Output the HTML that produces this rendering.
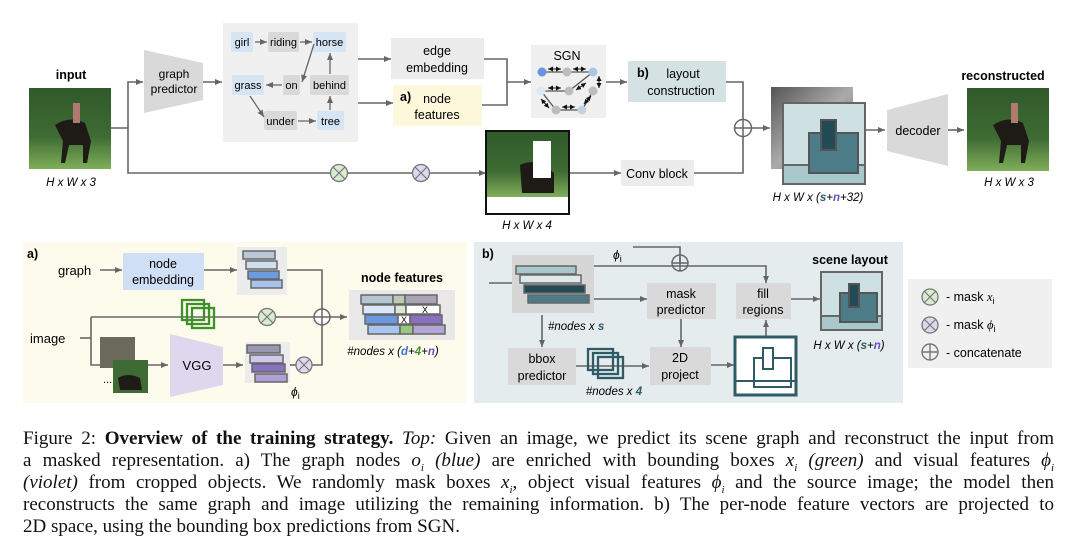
<!DOCTYPE html>
<html><head><meta charset="utf-8">
<style>
html,body{margin:0;padding:0;background:#fff;}
#w{position:relative;width:1080px;height:560px;overflow:hidden;background:#fff;}
svg{position:absolute;left:0;top:0;}
svg text{font-family:"Liberation Sans",sans-serif;}
.cap{position:absolute;left:23px;width:1031px;font-family:"Liberation Serif",serif;font-size:19px;line-height:22px;text-align:justify;text-align-last:justify;white-space:nowrap;color:#111;}
.cap.l{text-align-last:left;}
</style></head><body><div id="w">
<svg width="1080" height="420" viewBox="0 0 1080 420">
<defs>
<marker id="a" markerWidth="8" markerHeight="8" refX="7" refY="4" orient="auto" markerUnits="userSpaceOnUse"><path d="M0,1 L7,4 L0,7 z" fill="#666"/></marker>
<marker id="ak" markerWidth="6" markerHeight="6" refX="5" refY="3" orient="auto-start-reverse" markerUnits="userSpaceOnUse"><path d="M0,0.5 L5,3 L0,5.5 z" fill="#111"/></marker>
<linearGradient id="forest" x1="0" y1="0" x2="0" y2="1"><stop offset="0" stop-color="#2f5a2a"/><stop offset="0.6" stop-color="#3e6b33"/><stop offset="1" stop-color="#7fae5a"/></linearGradient>
<linearGradient id="gray" x1="0" y1="0" x2="1" y2="1"><stop offset="0" stop-color="#555"/><stop offset="0.5" stop-color="#aaa"/><stop offset="1" stop-color="#666"/></linearGradient>
</defs>
<g stroke="#666" stroke-width="1.6" fill="none">
<path d="M111,128 H128 V173 H486" marker-end="url(#a)"/>
<path d="M128,128 V82 H143" marker-end="url(#a)"/>
<path d="M203,82 H222" marker-end="url(#a)"/>
<path d="M358,59 H391" marker-end="url(#a)"/>
<path d="M358,103 H393" marker-end="url(#a)"/>
<path d="M484,59 H507 V105 H482"/>
<path d="M507,82 H531" marker-end="url(#a)"/>
<path d="M606,82 H627" marker-end="url(#a)"/>
<path d="M726,82 H743 V173 H694"/>
<path d="M569,173 H621" marker-end="url(#a)"/>
<path d="M751,128 H770" marker-end="url(#a)"/>
<path d="M865,130 H885" marker-end="url(#a)"/>
<path d="M948,130 H964" marker-end="url(#a)"/>
</g>
<rect x="29" y="88" width="82" height="81" fill="url(#forest)"/>
<path d="M55,125 q15,-10 30,-2 l6,18 l-4,22 l-4,0 l0,-18 l-14,0 l-4,18 l-4,0 l2,-22 z" fill="#1e1a16"/>
<rect x="73" y="103" width="7" height="20" fill="#b07a70"/>
<text x="71" y="79" font-size="12.5" font-weight="bold" text-anchor="middle">input</text>
<text x="71" y="186" font-size="11.5" font-style="italic" text-anchor="middle">H x W x 3</text>
<polygon points="144,50 203,63 203,100 144,113" fill="#d9d9d9"/>
<text x="174" y="78" font-size="12" text-anchor="middle">graph</text>
<text x="174" y="93" font-size="12" text-anchor="middle">predictor</text>
<rect x="223" y="23" width="135" height="119" fill="#f0f0f0"/>
<g font-size="11" text-anchor="middle">
<rect x="231" y="32" width="22" height="20" rx="2" fill="#d5e5f4"/><text x="242" y="46">girl</text>
<rect x="268" y="32" width="31" height="20" rx="2" fill="#d9d9d9"/><text x="283.5" y="46">riding</text>
<rect x="313" y="32" width="33" height="20" rx="2" fill="#d5e5f4"/><text x="329.5" y="46">horse</text>
<rect x="232" y="75" width="32" height="20" rx="2" fill="#d5e5f4"/><text x="248" y="89">grass</text>
<rect x="283" y="75" width="17" height="20" rx="2" fill="#d9d9d9"/><text x="291.5" y="89">on</text>
<rect x="310" y="75" width="39" height="20" rx="2" fill="#d9d9d9"/><text x="329.5" y="89">behind</text>
<rect x="264" y="111" width="33" height="19" rx="2" fill="#d9d9d9"/><text x="280.5" y="125">under</text>
<rect x="317" y="111" width="27" height="19" rx="2" fill="#d5e5f4"/><text x="330.5" y="125">tree</text>
</g>
<g stroke="#666" stroke-width="1.3" fill="none">
<path d="M255,42 H267" marker-end="url(#a)"/>
<path d="M300,42 H312" marker-end="url(#a)"/>
<path d="M314,44 L302,82" marker-end="url(#a)"/>
<path d="M282,85 H266" marker-end="url(#a)"/>
<path d="M250,96 L264,117" marker-end="url(#a)"/>
<path d="M298,121 H316" marker-end="url(#a)"/>
<path d="M330,110 V96" marker-end="url(#a)"/>
<path d="M330,74 V53" marker-end="url(#a)"/>
</g>
<rect x="391" y="38" width="93" height="41" fill="#ececec"/>
<text x="437" y="55" font-size="12.5" text-anchor="middle">edge</text>
<text x="437" y="72" font-size="12.5" text-anchor="middle">embedding</text>
<rect x="393" y="85" width="89" height="41" fill="#fdf8dc"/>
<text x="400" y="101" font-size="12.5" font-weight="bold">a)</text>
<text x="437" y="103" font-size="12.5" text-anchor="middle">node</text>
<text x="437" y="119" font-size="12.5" text-anchor="middle">features</text>
<rect x="531" y="45" width="75" height="73" fill="#f0f0f0"/>
<text x="567" y="60" font-size="12.5" text-anchor="middle">SGN</text>
<g stroke="#555" stroke-width="1.3">
<line x1="542" y1="72" x2="593" y2="72"/><line x1="541" y1="91" x2="569" y2="91"/><line x1="569" y1="91" x2="593" y2="72"/>
<line x1="541" y1="91" x2="556" y2="110"/><line x1="556" y1="110" x2="582" y2="110"/><line x1="582" y1="110" x2="593" y2="91"/>
</g>
<g stroke="#111" stroke-width="1" marker-start="url(#ak)" marker-end="url(#ak)">
<line x1="548" y1="69" x2="561" y2="69"/><line x1="573" y1="69" x2="586" y2="69"/>
<line x1="548" y1="88" x2="561" y2="88"/><line x1="599" y1="76" x2="599" y2="88"/>
<line x1="576" y1="90" x2="586" y2="83"/><line x1="541" y1="99" x2="549" y2="108"/>
<line x1="562" y1="107" x2="575" y2="107"/><line x1="584" y1="104" x2="591" y2="96"/>
</g>
<circle cx="542" cy="72" r="4.5" fill="#6a94de"/><circle cx="567" cy="72" r="4.5" fill="#bdbdbd"/><circle cx="593" cy="72" r="4.5" fill="#a9c6e8"/>
<circle cx="541" cy="91" r="4.5" fill="#dbe8f6"/><circle cx="569" cy="91" r="4.5" fill="#bdbdbd"/><circle cx="593" cy="91" r="4.5" fill="#bdbdbd"/>
<circle cx="556" cy="110" r="4.5" fill="#bdbdbd"/><circle cx="582" cy="110" r="4.5" fill="#c3d3e4"/>
<rect x="628" y="61" width="98" height="41" fill="#d4e2e4"/>
<text x="637" y="77" font-size="12.5" font-weight="bold">b)</text>
<text x="683" y="78" font-size="12.5" text-anchor="middle">layout</text>
<text x="681" y="95" font-size="12.5" text-anchor="middle">construction</text>
<circle cx="339" cy="173" r="8.5" fill="#d9ecd0" stroke="#777" stroke-width="1.3"/>
<path d="M333,167 L345,179 M345,167 L333,179" stroke="#777" stroke-width="1.2"/>
<circle cx="421" cy="173" r="8.5" fill="#ddd8ee" stroke="#777" stroke-width="1.3"/>
<path d="M415,167 L427,179 M427,167 L415,179" stroke="#777" stroke-width="1.2"/>
<rect x="486" y="131" width="83" height="83" fill="#fff" stroke="#111" stroke-width="2"/>
<rect x="487" y="132" width="81" height="65" fill="url(#forest)"/>
<path d="M520,165 q12,-6 24,0 l10,8 l0,20 l-32,0 z" fill="#1e1a16"/>
<rect x="533" y="141" width="18" height="37" fill="#fff"/>
<text x="527" y="229" font-size="11.5" font-style="italic" text-anchor="middle">H x W x 4</text>
<rect x="621" y="160" width="73" height="26" fill="#ececec"/>
<text x="657" y="178" font-size="12.5" text-anchor="middle">Conv block</text>
<circle cx="743" cy="128" r="8.5" fill="#fff" stroke="#666" stroke-width="1.5"/>
<path d="M734.5,128 H751.5 M743,119.5 V136.5" stroke="#666" stroke-width="1.5"/>
<rect x="771" y="87" width="82" height="82" fill="url(#gray)"/>
<rect x="783" y="103" width="82" height="81" fill="#cfe0e2" stroke="#666" stroke-width="2"/>
<rect x="784" y="165" width="80" height="18" fill="#a9c8cc"/>
<line x1="783" y1="165" x2="865" y2="165" stroke="#666" stroke-width="2"/>
<rect x="809" y="133" width="49" height="40" fill="#4b7c88" stroke="#555" stroke-width="2"/>
<rect x="821" y="120" width="15" height="30" fill="#234b55" stroke="#555" stroke-width="2"/>
<text x="818" y="201" font-size="11.5" font-style="italic" text-anchor="middle">H x W x (<tspan fill="#2e5b66" font-weight="bold">s</tspan>+<tspan fill="#6a4fc0" font-weight="bold">n</tspan>+32)</text>
<polygon points="887,110 948,94 948,166 887,151" fill="#d9d9d9"/>
<text x="918" y="135" font-size="12.5" text-anchor="middle">decoder</text>
<rect x="967" y="88" width="82" height="83" fill="url(#forest)"/>
<path d="M993,125 q15,-10 30,-2 l6,18 l-4,22 l-4,0 l0,-18 l-14,0 l-4,18 l-4,0 l2,-22 z" fill="#1e1a16"/>
<rect x="1011" y="103" width="7" height="20" fill="#b07a70"/>
<text x="1003" y="80" font-size="12.5" font-weight="bold" text-anchor="middle">reconstructed</text>
<text x="1009" y="186" font-size="11.5" font-style="italic" text-anchor="middle">H x W x 3</text>

<rect x="23" y="242" width="444" height="161" fill="#fdfbec"/>
<text x="27" y="258" font-size="12.5" font-weight="bold">a)</text>
<text x="58" y="275" font-size="13">graph</text>
<rect x="123" y="253" width="81" height="37" fill="#cfdff5"/>
<text x="163" y="268" font-size="12.5" text-anchor="middle">node</text>
<text x="163" y="284" font-size="12.5" text-anchor="middle">embedding</text>
<rect x="237" y="247" width="50" height="48" fill="#ececec"/>
<g stroke="#666" stroke-width="1.5">
<rect x="243" y="251" width="32" height="8" fill="#b8c8d4"/>
<rect x="246" y="261" width="31" height="8" fill="#cfe0f0"/>
<rect x="248" y="271" width="31" height="8" fill="#6d9be0"/>
<rect x="251" y="280" width="31" height="8" fill="#a8c4ee"/>
</g>
<text x="30" y="343" font-size="13">image</text>
<g stroke="#666" stroke-width="1.6" fill="none">
<path d="M100,270 H122" marker-end="url(#a)"/>
<path d="M204,270 H237" marker-end="url(#a)"/>
<path d="M287,270 H322 V365 H312"/>
<path d="M80,338 H91"/>
<path d="M91,317 V365 H100"/>
<path d="M91,317 H347" marker-end="url(#a)"/>
<path d="M148,365 H168" marker-end="url(#a)"/>
<path d="M223,365 H243" marker-end="url(#a)"/>
<path d="M290,365 H296"/>
</g>
<g fill="none" stroke="#3f8f2a" stroke-width="2.3">
<rect x="182" y="300" width="22" height="20"/><rect x="187" y="304" width="22" height="20"/><rect x="192" y="308" width="22" height="20"/>
</g>
<circle cx="267" cy="317" r="8.5" fill="#d9ecd0" stroke="#777" stroke-width="1.3"/>
<path d="M261,311 L273,323 M273,311 L261,323" stroke="#777" stroke-width="1.2"/>
<circle cx="322" cy="317" r="8" fill="#fff" stroke="#666" stroke-width="1.5"/>
<path d="M314,317 H330 M322,309 V325" stroke="#666" stroke-width="1.5"/>
<rect x="100" y="337" width="35" height="31" fill="#6b6a5a"/>
<rect x="113" y="360" width="35" height="33" fill="#3e6b33"/>
<path d="M118,378 q10,-6 22,0 l2,12 l-22,0 z" fill="#1e1a16"/>
<text x="103" y="383" font-size="11">...</text>
<polygon points="170,334 223,347 223,385 170,397" fill="#ddd8ee"/>
<text x="197" y="370" font-size="13" text-anchor="middle">VGG</text>
<rect x="245" y="342" width="45" height="41" fill="#ececec"/>
<g stroke="#666" stroke-width="1.5">
<rect x="247" y="345" width="33" height="8" fill="#9a98b0"/>
<rect x="250" y="355" width="33" height="8" fill="#d0c8ec"/>
<rect x="252" y="364" width="33" height="8" fill="#8a70c0"/>
<rect x="255" y="374" width="32" height="8" fill="#b0a0d8"/>
</g>
<circle cx="304" cy="365" r="8" fill="#ddd8ee" stroke="#777" stroke-width="1.3"/>
<path d="M298,359 L310,371 M310,359 L298,371" stroke="#777" stroke-width="1.2"/>
<text x="291" y="396" font-size="12" font-style="italic" font-family="Liberation Serif">ϕ<tspan font-size="9" dy="3" font-style="normal" font-family="Liberation Sans">i</tspan></text>
<text x="402" y="282" font-size="12.5" font-weight="bold" text-anchor="middle">node features</text>
<rect x="349" y="290" width="106" height="50" fill="#e8e8e8"/>
<g stroke="#666" stroke-width="1.5">
<rect x="361" y="295" width="32" height="9" fill="#b4c6d4"/><rect x="393" y="295" width="12" height="9" fill="#bccab4"/><rect x="405" y="295" width="32" height="9" fill="#a8a4b4"/>
<rect x="363" y="305" width="32" height="9" fill="#d8e8f8"/><rect x="395" y="305" width="11" height="9" fill="#d8ead0"/><rect x="406" y="305" width="34" height="9" fill="#fff"/>
<rect x="365" y="315" width="33" height="9" fill="#6a98e0"/><rect x="398" y="315" width="12" height="9" fill="#fff"/><rect x="410" y="315" width="32" height="9" fill="#8a70c0"/>
<rect x="368" y="325" width="32" height="9" fill="#a8c4f0"/><rect x="400" y="325" width="13" height="9" fill="#98c880"/><rect x="413" y="325" width="32" height="9" fill="#b4a4d8"/>
</g>
<text x="425" y="313" font-size="9" text-anchor="middle">X</text>
<text x="404" y="323" font-size="9" text-anchor="middle">X</text>
<text x="393" y="355" font-size="11.5" font-style="italic" text-anchor="middle">#nodes x (<tspan fill="#3a6fd8" font-weight="bold">d</tspan>+<tspan fill="#3f8f2a" font-weight="bold">4</tspan>+<tspan fill="#6a4fc0" font-weight="bold">n</tspan>)</text>

<rect x="474" y="242" width="429" height="161" fill="#e4ecee"/>
<text x="482" y="258" font-size="12.5" font-weight="bold">b)</text>
<rect x="512" y="255" width="82" height="58" fill="#d6d6d6"/>
<g stroke="#666" stroke-width="1.5">
<rect x="516" y="266" width="60" height="8" fill="#a9c8cc"/>
<rect x="520" y="275" width="61" height="8" fill="#dde9eb"/>
<rect x="524" y="285" width="61" height="8" fill="#234b55"/>
<rect x="528" y="295" width="61" height="8" fill="#4b7c88"/>
</g>
<text x="613" y="259" font-size="12" font-style="italic" font-family="Liberation Serif">ϕ<tspan font-size="9" dy="3" font-style="normal" font-family="Liberation Sans">i</tspan></text>
<g stroke="#666" stroke-width="1.6" fill="none">
<path d="M489,283 H512"/>
<path d="M633,247 H680 V262"/>
<path d="M594,266 H766 V283" marker-end="url(#a)"/>
<path d="M594,299 H647" marker-end="url(#a)"/>
<path d="M791,299 H820" marker-end="url(#a)"/>
<path d="M542,315 V347" marker-end="url(#a)"/>
<path d="M576,366 H649" marker-end="url(#a)"/>
<path d="M681,319 V347" marker-end="url(#a)"/>
<path d="M711,365 H734" marker-end="url(#a)"/>
<path d="M766,336 V320" marker-end="url(#a)"/>
</g>
<circle cx="680" cy="263" r="8" fill="none" stroke="#666" stroke-width="1.5"/>
<path d="M672,263 H688 M680,255 V271" stroke="#666" stroke-width="1.5"/>
<rect x="647" y="283" width="69" height="36" fill="#d9d9d9"/>
<text x="681" y="298" font-size="12.5" text-anchor="middle">mask</text>
<text x="681" y="314" font-size="12.5" text-anchor="middle">predictor</text>
<rect x="736" y="283" width="55" height="36" fill="#d9d9d9"/>
<text x="763" y="298" font-size="12.5" text-anchor="middle">fill</text>
<text x="763" y="314" font-size="12.5" text-anchor="middle">regions</text>
<text x="850" y="264" font-size="12.5" font-weight="bold" text-anchor="middle">scene layout</text>
<rect x="821" y="272" width="61" height="58" fill="#cfe0e2" stroke="#666" stroke-width="2"/>
<rect x="822" y="316" width="59" height="13" fill="#a9c8cc"/>
<line x1="821" y1="316" x2="882" y2="316" stroke="#666" stroke-width="2"/>
<rect x="840" y="293" width="37" height="29" fill="#4b7c88" stroke="#555" stroke-width="2"/>
<rect x="849" y="284" width="10" height="23" fill="#234b55" stroke="#555" stroke-width="2"/>
<text x="849" y="349" font-size="11.5" font-style="italic" text-anchor="middle">H x W x (<tspan fill="#2e5b66" font-weight="bold">s</tspan>+<tspan fill="#6a4fc0" font-weight="bold">n</tspan>)</text>
<text x="548" y="330" font-size="11.5" font-style="italic">#nodes x <tspan fill="#2e5b66" font-weight="bold">s</tspan></text>
<rect x="508" y="348" width="68" height="37" fill="#d9d9d9"/>
<text x="542" y="363" font-size="12.5" text-anchor="middle">bbox</text>
<text x="542" y="380" font-size="12.5" text-anchor="middle">predictor</text>
<g fill="none" stroke="#2e5b66" stroke-width="2.3">
<rect x="588" y="349" width="25" height="21"/><rect x="593" y="353" width="25" height="21"/><rect x="598" y="357" width="25" height="21"/>
</g>
<text x="614" y="395" font-size="11.5" font-style="italic" text-anchor="middle">#nodes x <tspan fill="#2e5b66" font-weight="bold">4</tspan></text>
<rect x="650" y="347" width="61" height="38" fill="#d9d9d9"/>
<text x="680" y="362" font-size="12.5" text-anchor="middle">2D</text>
<text x="680" y="379" font-size="12.5" text-anchor="middle">project</text>
<rect x="735" y="337" width="61" height="58" fill="#fff" stroke="#2e5b66" stroke-width="3"/>
<line x1="735" y1="381" x2="796" y2="381" stroke="#2e5b66" stroke-width="2"/>
<rect x="754" y="358" width="37" height="29" fill="none" stroke="#2e5b66" stroke-width="2"/>
<rect x="763" y="348" width="10" height="21" fill="#fff" stroke="#2e5b66" stroke-width="2"/>
<rect x="908" y="279" width="144" height="89" fill="#f0f0f0"/>
<circle cx="930" cy="297" r="8" fill="#d9ecd0" stroke="#777" stroke-width="1.3"/>
<path d="M924.5,291.5 L935.5,302.5 M935.5,291.5 L924.5,302.5" stroke="#777" stroke-width="1.2"/>
<circle cx="930" cy="325" r="8" fill="#ddd8ee" stroke="#777" stroke-width="1.3"/>
<path d="M924.5,319.5 L935.5,330.5 M935.5,319.5 L924.5,330.5" stroke="#777" stroke-width="1.2"/>
<circle cx="930" cy="352" r="8" fill="none" stroke="#777" stroke-width="1.4"/>
<path d="M922,352 H938 M930,344 V360" stroke="#777" stroke-width="1.4"/>
<g font-size="12.5">
<text x="946" y="301">-  mask <tspan font-style="italic" font-family="Liberation Serif">x</tspan><tspan font-size="9" dy="3">i</tspan></text>
<text x="946" y="329">-  mask <tspan font-style="italic" font-family="Liberation Serif">ϕ</tspan><tspan font-size="9" dy="3">i</tspan></text>
<text x="946" y="357">-  concatenate</text>
</g>
</svg>
<div class="cap" style="top:428px">Figure 2: <b>Overview of the training strategy.</b> <i>Top:</i> Given an image, we predict its scene graph and reconstruct the input from</div>
<div class="cap" style="top:450px">a masked representation. a) The graph nodes <i>o<sub style="font-size:11px">i</sub></i> <i>(blue)</i> are enriched with bounding boxes <i>x<sub style="font-size:11px">i</sub></i> <i>(green)</i> and visual features <i>ϕ<sub style="font-size:11px">i</sub></i></div>
<div class="cap" style="top:472px"><i>(violet)</i> from cropped objects. We randomly mask boxes <i>x<sub style="font-size:11px">i</sub></i>, object visual features <i>ϕ<sub style="font-size:11px">i</sub></i> and the source image; the model then</div>
<div class="cap" style="top:494px">reconstructs the same graph and image utilizing the remaining information. b) The per-node feature vectors are projected to</div>
<div class="cap l" style="top:516px">2D space, using the bounding box predictions from SGN.</div>
</div></body></html>
